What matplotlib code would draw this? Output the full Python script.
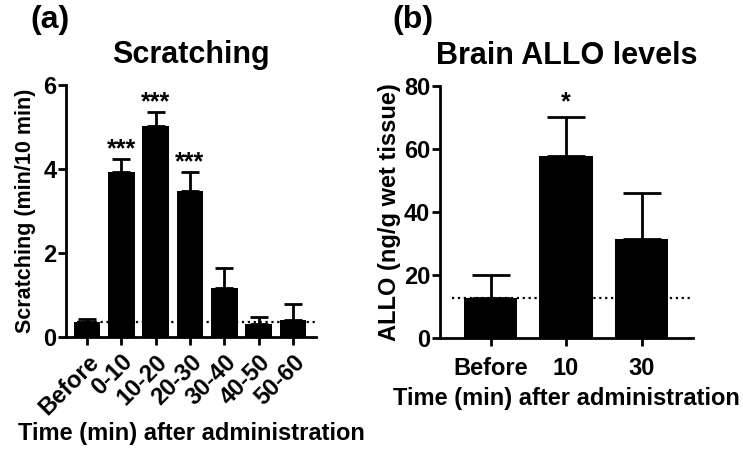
import numpy as np
import matplotlib
matplotlib.use("Agg")
import matplotlib.pyplot as plt

plt.rcParams['font.family'] = ['Liberation Sans', 'DejaVu Sans']
plt.rcParams['font.weight'] = 'bold'

# panel (a) scratching
scr_labels = ["Before", "0-10", "10-20", "20-30", "30-40", "40-50", "50-60"]
scr_mean = [0.36, 3.92, 5.03, 3.48, 1.17, 0.31, 0.40]
scr_sem = [0.07, 0.32, 0.33, 0.44, 0.48, 0.17, 0.39]
scr_stars = ["", "***", "***", "***", "", "", ""]

# panel (b) brain ALLO
allo_labels = ["Before", "10", "30"]
allo_mean = [12.8, 57.8, 31.3]
allo_sem = [7.2, 12.5, 14.6]
allo_stars = ["", "*", ""]

fig = plt.figure(figsize=(7.43, 4.5), dpi=100)
ax1 = fig.add_axes([0.0888, 0.2511, 0.3365, 0.56])
ax2 = fig.add_axes([0.5922, 0.2489, 0.3405, 0.56])

lw = 2.0


def style(ax, xpad):
    for s in ["top", "right"]:
        ax.spines[s].set_visible(False)
    for s in ["left", "bottom"]:
        ax.spines[s].set_linewidth(lw)
    ax.tick_params(width=lw, length=5.5, labelsize=17)
    ax.tick_params(axis="y", pad=1.5)
    ax.tick_params(axis="x", pad=xpad)
    for t in ax.get_xticklabels() + ax.get_yticklabels():
        t.set_fontweight('bold')


# (a)
x1 = np.arange(len(scr_labels))
ax1.bar(x1, scr_mean, width=0.78, color="black",
        yerr=[np.zeros(len(scr_sem)), scr_sem],
        error_kw=dict(ecolor="black", elinewidth=lw, capsize=6.5, capthick=lw))
ax1.axhline(scr_mean[0], xmin=0.045, xmax=1.0, color="black", ls=":", lw=1.6)
for xi, m, e, s in zip(x1, scr_mean, scr_sem, scr_stars):
    if s:
        ax1.annotate(s, (xi, m + e), xytext=(0, 2), textcoords="offset points",
                     ha="center", va="baseline", fontsize=18, fontweight="bold")
ax1.set_xlim(-0.61, 6.67)
ax1.set_ylim(0, 6)
ax1.set_yticks([0, 2, 4, 6])
ax1.set_xticks(x1)
ax1.set_xticklabels(scr_labels, rotation=45, ha="right", rotation_mode="anchor")
ax1.set_ylabel("Scratching (min/10 min)", fontsize=15.5, fontweight="bold", labelpad=5)
ax1.set_xlabel("Time (min) after administration", fontsize=17, fontweight="bold", labelpad=2)
ax1.set_title("Scratching", fontsize=22, fontweight="bold", pad=16)
style(ax1, 4)

# (b)
x2 = np.arange(len(allo_labels))
ax2.bar(x2, allo_mean, width=0.71, color="black",
        yerr=[np.zeros(len(allo_sem)), allo_sem],
        error_kw=dict(ecolor="black", elinewidth=lw, capsize=13.5, capthick=lw))
ax2.axhline(allo_mean[0], xmin=0.047, xmax=1.0, color="black", ls=":", lw=1.6)
for xi, m, e, s in zip(x2, allo_mean, allo_sem, allo_stars):
    if s:
        ax2.annotate(s, (xi, m + e), xytext=(0, 5), textcoords="offset points",
                     ha="center", va="baseline", fontsize=18, fontweight="bold")
ax2.set_xlim(-0.67, 2.68)
ax2.set_ylim(0, 80)
ax2.set_yticks([0, 20, 40, 60, 80])
ax2.set_xticks(x2)
ax2.set_xticklabels(allo_labels)
ax2.set_ylabel("ALLO (ng/g wet tissue)", fontsize=17, fontweight="bold", labelpad=2)
ax2.set_xlabel("Time (min) after administration", fontsize=17, fontweight="bold", labelpad=5)
ax2.set_title("Brain ALLO levels", fontsize=22, fontweight="bold", pad=16)
style(ax2, 8)

fig.text(30 / 743, 1 - 5 / 450, "(a)", fontsize=23, fontweight="bold", va="top", ha="left")
fig.text(392 / 743, 1 - 5 / 450, "(b)", fontsize=23, fontweight="bold", va="top", ha="left")

fig.savefig("out.png", dpi=100)
